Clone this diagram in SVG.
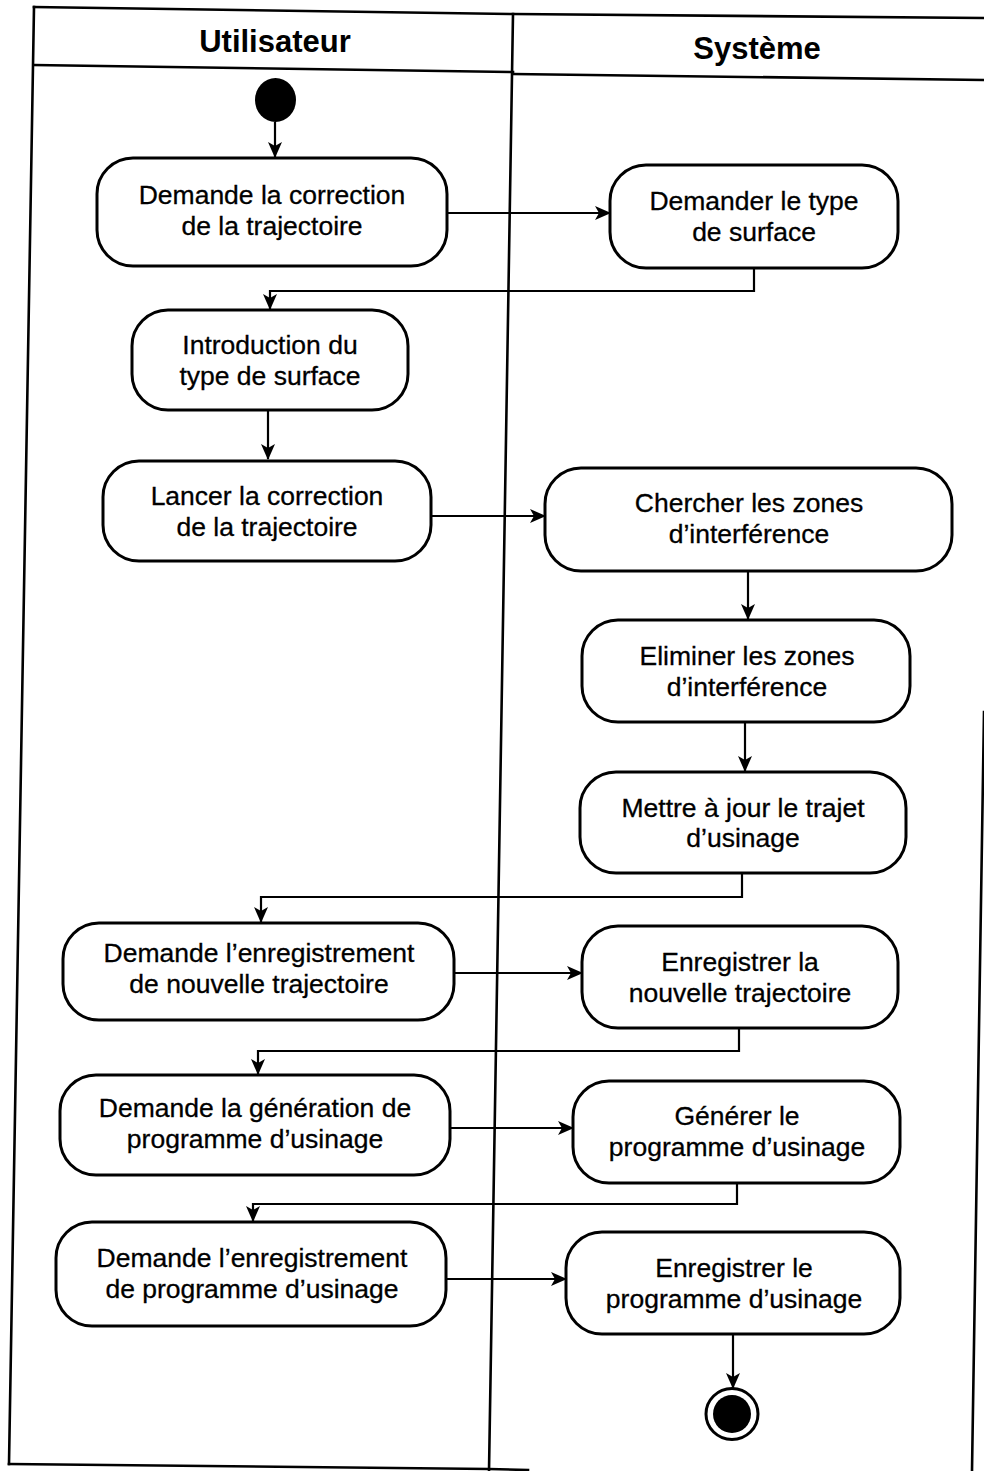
<svg xmlns="http://www.w3.org/2000/svg" width="984" height="1471" viewBox="0 0 984 1471">
  <style>
    .lane { fill: none; stroke: #000; stroke-width: 2.6; stroke-linecap: square; }
    .title { font-family: "Liberation Sans", Arial, sans-serif; font-weight: bold; font-size: 31px; text-anchor: middle; fill: #000; }
    .act rect { fill: #fff; stroke: #000; stroke-width: 3; }
    .act text { font-family: "Liberation Sans", Arial, sans-serif; font-size: 26.5px; text-anchor: middle; fill: #000; stroke: #000; stroke-width: 0.3; }
    .flow { fill: none; stroke: #000; stroke-width: 2.2; marker-end: url(#arrow); }
  </style>
  <defs>
    <marker id="arrow" markerUnits="userSpaceOnUse" markerWidth="16" markerHeight="14" refX="15" refY="7" orient="auto">
      <path d="M0,0 L16,7 L0,14 L4,7 z" fill="#000"/>
    </marker>
  </defs>

  <rect width="984" height="1471" fill="#fff"/>

  <!-- swimlane frame -->
  <g id="lanes">
    <polyline class="lane" points="34,7 513,14 984,18"/>
    <polyline class="lane" points="34,65 513,72"/>
    <polyline class="lane" points="513,74 984,80"/>
    <line class="lane" x1="34" y1="7" x2="9" y2="1464"/>
    <polyline class="lane" points="9,1464 489,1469 528,1470"/>
    <line class="lane" x1="513" y1="14" x2="489" y2="1471"/>
    <line class="lane" x1="984" y1="712" x2="972" y2="1471"/>
    <text class="title" x="275" y="52">Utilisateur</text>
    <text class="title" x="757" y="59">Système</text>
  </g>

  <!-- connectors -->
  <g id="connectors">
    <path class="flow" d="M275,122 V157"/>
    <path class="flow" d="M447,213 H610"/>
    <path class="flow" d="M754,268 V291 H270 V309"/>
    <path class="flow" d="M268,410 V459"/>
    <path class="flow" d="M431,516 H545"/>
    <path class="flow" d="M748,571 V619"/>
    <path class="flow" d="M745,722 V771"/>
    <path class="flow" d="M742,873 V897 H261 V922"/>
    <path class="flow" d="M454,973 H582"/>
    <path class="flow" d="M739,1028 V1051 H258 V1074"/>
    <path class="flow" d="M450,1128 H573"/>
    <path class="flow" d="M737,1183 V1204 H253 V1221"/>
    <path class="flow" d="M446,1279 H566"/>
    <path class="flow" d="M733,1334 V1388"/>
  </g>

  <!-- initial node -->
  <g id="start">
    <ellipse cx="275.5" cy="100" rx="20.5" ry="22" fill="#000"/>
  </g>

  <g id="a1" class="act">
    <rect x="97" y="158" width="350" height="108" rx="36" ry="36"/>
    <text x="272" y="204">Demande la correction</text>
    <text x="272" y="235">de la trajectoire</text>
  </g>
  <g id="a2" class="act">
    <rect x="610" y="165" width="288" height="103" rx="36" ry="36"/>
    <text x="754" y="210">Demander le type</text>
    <text x="754" y="241">de surface</text>
  </g>
  <g id="a3" class="act">
    <rect x="132" y="310" width="276" height="100" rx="36" ry="36"/>
    <text x="270" y="354">Introduction du</text>
    <text x="270" y="385">type de surface</text>
  </g>
  <g id="a4" class="act">
    <rect x="103" y="461" width="328" height="100" rx="36" ry="36"/>
    <text x="267" y="505">Lancer la correction</text>
    <text x="267" y="536">de la trajectoire</text>
  </g>
  <g id="a5" class="act">
    <rect x="545" y="468" width="407" height="103" rx="36" ry="36"/>
    <text x="749" y="512">Chercher les zones</text>
    <text x="749" y="543">d’interférence</text>
  </g>
  <g id="a6" class="act">
    <rect x="582" y="620" width="328" height="102" rx="36" ry="36"/>
    <text x="747" y="665">Eliminer les zones</text>
    <text x="747" y="696">d’interférence</text>
  </g>
  <g id="a7" class="act">
    <rect x="580" y="772" width="326" height="101" rx="36" ry="36"/>
    <text x="743" y="817">Mettre à jour le trajet</text>
    <text x="743" y="847">d’usinage</text>
  </g>
  <g id="a8" class="act">
    <rect x="63" y="923" width="391" height="97" rx="36" ry="36"/>
    <text x="259" y="962">Demande l’enregistrement</text>
    <text x="259" y="993">de nouvelle trajectoire</text>
  </g>
  <g id="a9" class="act">
    <rect x="582" y="926" width="316" height="102" rx="36" ry="36"/>
    <text x="740" y="971">Enregistrer la</text>
    <text x="740" y="1002">nouvelle trajectoire</text>
  </g>
  <g id="a10" class="act">
    <rect x="60" y="1075" width="390" height="100" rx="36" ry="36"/>
    <text x="255" y="1117">Demande la génération de</text>
    <text x="255" y="1148">programme d’usinage</text>
  </g>
  <g id="a11" class="act">
    <rect x="573" y="1081" width="327" height="102" rx="36" ry="36"/>
    <text x="737" y="1125">Générer le</text>
    <text x="737" y="1156">programme d’usinage</text>
  </g>
  <g id="a12" class="act">
    <rect x="56" y="1222" width="390" height="104" rx="36" ry="36"/>
    <text x="252" y="1267">Demande l’enregistrement</text>
    <text x="252" y="1298">de programme d’usinage</text>
  </g>
  <g id="a13" class="act">
    <rect x="566" y="1232" width="334" height="102" rx="36" ry="36"/>
    <text x="734" y="1277">Enregistrer le</text>
    <text x="734" y="1308">programme d’usinage</text>
  </g>

  <!-- final node -->
  <g id="end">
    <ellipse cx="732" cy="1414" rx="26" ry="25.5" fill="#fff" stroke="#000" stroke-width="3"/>
    <ellipse cx="732" cy="1414" rx="19" ry="19" fill="#000"/>
  </g>
</svg>
